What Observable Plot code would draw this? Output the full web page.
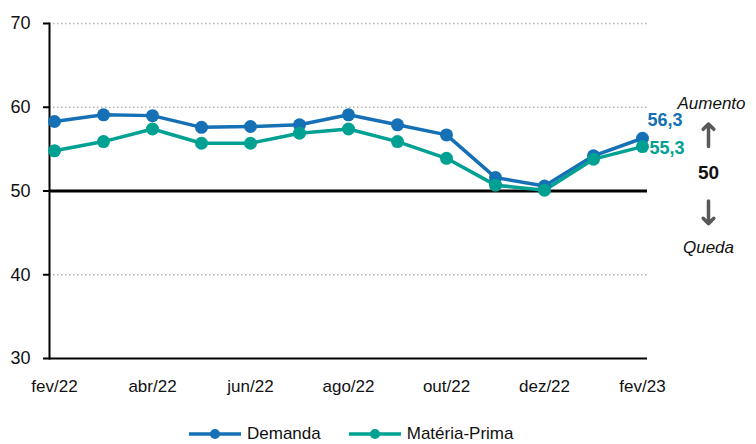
<!DOCTYPE html>
<html>
<head>
<meta charset="utf-8">
<script src="https://cdn.jsdelivr.net/npm/d3@7"></script>
<script src="https://cdn.jsdelivr.net/npm/@observablehq/plot@0.6"></script>
<style>
  html, body { margin: 0; padding: 0; background: #fff; }
  #wrap { width: 756px; height: 444px; position: relative; font-family: "Liberation Sans", Arial, sans-serif; }
  #legend { position: absolute; left: 189px; top: 420px; height: 28px; display: flex; align-items: center; font-size: 17px; color: #111; }
  .item { display: flex; align-items: center; }
  .item svg { margin-right: 6px; }
  .item + .item { margin-left: 28px; }
</style>
</head>
<body>
<div id="wrap"><div id="chart"></div><div id="legend"></div></div>
<script>
const months = ["fev/22","mar/22","abr/22","mai/22","jun/22","jul/22","ago/22","set/22","out/22","nov/22","dez/22","jan/23","fev/23"];
const demanda = [58.3,59.1,59.0,57.6,57.7,57.9,59.1,57.9,56.7,51.6,50.6,54.2,56.3];
const materiaPrima = [54.8,55.9,57.4,55.7,55.7,56.9,57.4,55.9,53.9,50.7,50.1,53.8,55.3];
const seriesNames = ["Demanda","Matéria-Prima"];
const seriesColors = ["#1570B5","#00A093"];
const xTicks = ["fev/22","abr/22","jun/22","ago/22","out/22","dez/22","fev/23"];
const yTicks = [30,40,50,60,70];
const gridValues = [40,60,70];
const threshold = 50;
const yDomain = [30,70];
// side annotation (y in data units)
const annoUp = {t: "Aumento", y: 60.45};
const annoMid = {t: "50", y: 52.2};
const annoDown = {t: "Queda", y: 43.25};
const arrowUp = [55.3,58.0];
const arrowDown = [48.8,46.1];

const rows = [];
months.forEach((m,i) => {
  rows.push({month:m, value:demanda[i], series:seriesNames[0]});
  rows.push({month:m, value:materiaPrima[i], series:seriesNames[1]});
});
const last = months[months.length-1];
const lastDem = [{month:last, value:demanda[demanda.length-1], series:seriesNames[0]}];
const lastMP = [{month:last, value:materiaPrima[materiaPrima.length-1], series:seriesNames[1]}];
const fmt = v => v.toFixed(1).replace(".", ",");
const arrows = [
  {month:last, y1:arrowUp[0], y2:arrowUp[1]},
  {month:last, y1:arrowDown[0], y2:arrowDown[1]}
];
const font = "'Liberation Sans', Arial, sans-serif";

const chart = Plot.plot({
  width: 756,
  height: 414,
  marginLeft: 49,
  marginRight: 109,
  marginTop: 23,
  marginBottom: 56,
  style: {fontFamily: font, fontSize: "17px", color: "#111", background: "#fff"},
  x: {type: "point", domain: months, padding: 0},
  y: {domain: yDomain},
  color: {domain: seriesNames, range: seriesColors},
  marks: [
    Plot.ruleY(gridValues, {stroke: "#b5b5b5", strokeWidth: 1.5, strokeDasharray: "1.5,2.5"}),
    Plot.ruleY([threshold], {stroke: "#000", strokeWidth: 3}),
    Plot.ruleY([yDomain[0]], {stroke: "#000", strokeWidth: 2}),
    Plot.frame({anchor: "left", stroke: "#000", strokeWidth: 2}),
    Plot.axisY({ticks: yTicks, tickSize: 6, tickPadding: 13, label: null, stroke: "#000", strokeWidth: 2, fill: "#111", fontSize: 18}),
    Plot.axisX({ticks: xTicks, tickSize: 0, tickPadding: 21, label: null, fill: "#111"}),
    Plot.text(lastDem, {x: "month", y: "value", text: d => fmt(d.value), fill: seriesColors[0],
      textAnchor: "start", fontWeight: "bold", fontSize: 18, dx: 5, dy: -18}),
    Plot.text(lastMP, {x: "month", y: "value", text: d => fmt(d.value), fill: seriesColors[1],
      textAnchor: "start", fontWeight: "bold", fontSize: 18, dx: 7, dy: 2}),
    Plot.line(rows, {x: "month", y: "value", z: "series", stroke: "series", strokeWidth: 3.5}),
    Plot.dot(rows, {x: "month", y: "value", fill: "series", r: 6.5}),
    Plot.text([annoUp], {x: () => last, y: "y", text: "t", dx: 69, fontSize: 17, fontStyle: "italic", fill: "#111"}),
    Plot.text([annoDown], {x: () => last, y: "y", text: "t", dx: 66, fontSize: 17, fontStyle: "italic", fill: "#111"}),
    Plot.text([annoMid], {x: () => last, y: "y", text: "t", dx: 66, fontSize: 19, fontWeight: "bold", fill: "#111"}),
    Plot.arrow(arrows, {x1: "month", x2: "month", y1: "y1", y2: "y2", dx: 66, stroke: "#595959", strokeWidth: 3.5, headAngle: 90, headLength: 12})
  ]
});
document.getElementById("chart").appendChild(chart);

const legend = document.getElementById("legend");
seriesNames.forEach((name,i) => {
  const item = document.createElement("div");
  item.className = "item";
  item.innerHTML = `<svg width="52" height="14"><line x1="0" y1="7" x2="52" y2="7" stroke="${seriesColors[i]}" stroke-width="3.5"/><circle cx="26" cy="7" r="5" fill="${seriesColors[i]}"/></svg><span>${name}</span>`;
  legend.appendChild(item);
});
</script>
</body>
</html>
